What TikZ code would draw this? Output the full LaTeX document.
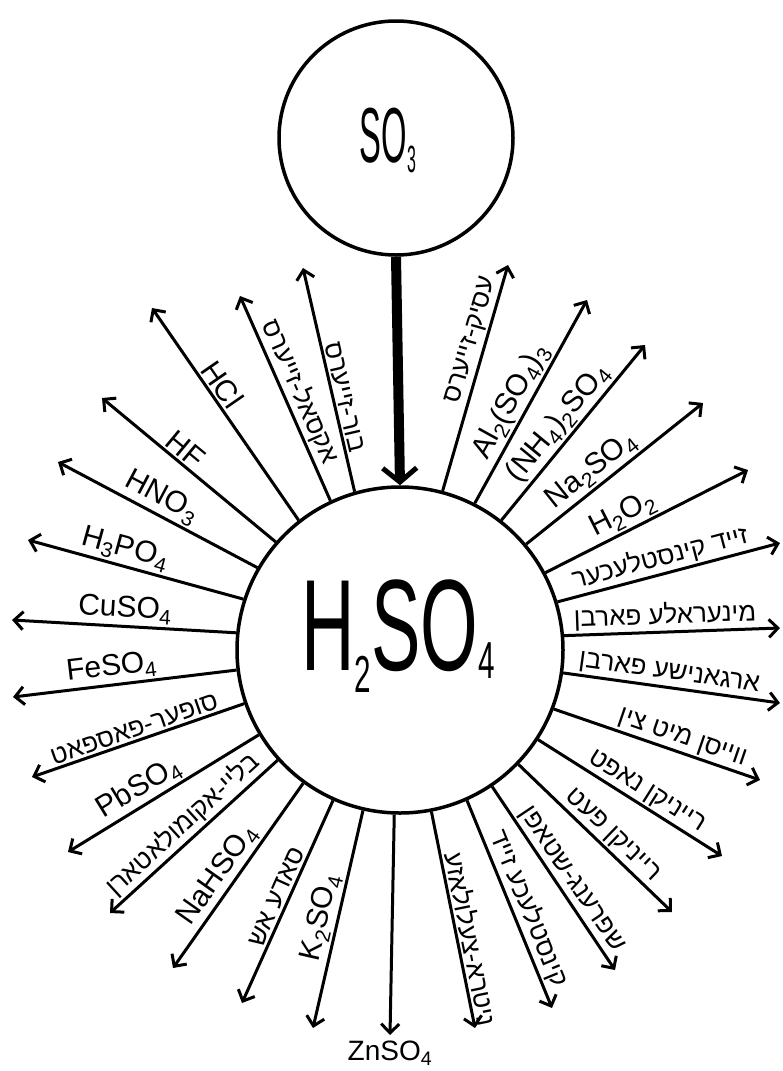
\documentclass[tikz,border=0pt]{standalone}
\usepackage{graphicx}
\usepackage{fontspec}
\setmainfont{Liberation Sans}
\newfontfamily\hebfont[Script=Hebrew]{Liberation Sans}
\TeXXeTstate=1
\usetikzlibrary{arrows.meta}

\begin{document}
\begin{tikzpicture}[
    x=1pt, y=-1pt,
    line width=3pt,
    >={Straight Barb[length=9pt,width=18pt]},
    ring/.style={circle, draw, line width=3.5pt, inner sep=0pt},
    chem/.style={font=\fontsize{30}{30}\selectfont, sloped, above, inner sep=2pt},
    yid/.style={font=\fontsize{26}{26}\selectfont\hebfont, sloped, above, inner sep=2pt}
]
    \useasboundingbox (0,0) rectangle (783,1071);

    % the two circles
    \node[ring, minimum size=234pt] (so3) at (396,138) {};
    \node (so3txt) at (388,140) {\scalebox{0.42}[1]{\fontsize{78}{78}\selectfont SO\raisebox{-10pt}{\fontsize{38}{38}\selectfont 3}}};
    \node[ring, minimum size=326pt] (acid) at (400,650) {};
    \node (acidtxt) at (398,636) {\scalebox{0.57}[1]{\fontsize{130}{130}\selectfont H\raisebox{-22pt}{\fontsize{52}{52}\selectfont 2}SO\raisebox{-8pt}{\fontsize{52}{52}\selectfont 4}}};

    % SO3 goes in
    \draw[line width=10pt, -{Straight Barb[length=14pt,width=34pt,line width=5pt]}] (so3.south) -- (acid.north);

    % arrow tips
    \coordinate (tR1) at (508,265);
    \coordinate (tAl) at (587,300);
    \coordinate (tNH) at (645,345);
    \coordinate (tNa) at (703,403);
    \coordinate (tHO) at (748,470);
    \coordinate (tR6) at (780,543);
    \coordinate (tR7) at (780,628);
    \coordinate (tR8) at (780,703);
    \coordinate (tR9) at (760,780);
    \coordinate (tR10) at (722,856);
    \coordinate (tR11) at (672,912);
    \coordinate (tR12) at (615,970);
    \coordinate (tR13) at (552,1008);
    \coordinate (tR14) at (475,1028);
    \coordinate (tZn) at (390,1035);
    \coordinate (tK) at (313,1028);
    \coordinate (tL13) at (242,1003);
    \coordinate (tNaH) at (173,968);
    \coordinate (tL11) at (110,913);
    \coordinate (tPb) at (68,852);
    \coordinate (tL9) at (32,777);
    \coordinate (tFe) at (13,697);
    \coordinate (tCu) at (12,620);
    \coordinate (tHP) at (28,540);
    \coordinate (tHN) at (58,462);
    \coordinate (tHF) at (102,398);
    \coordinate (tHCl) at (152,308);
    \coordinate (tL2) at (240,296);
    \coordinate (tL1) at (303,268);

    % right half
    \draw[->] (acid.75) -- (tR1) node[yid, pos=.65] {\beginR עסיק-זייערס\endR};
    \draw[->] (acid.63) -- (tAl) node[chem, pos=.46] {Al\textsubscript{2}(SO\textsubscript{4})\textsubscript{3}};
    \draw[->] (acid.52) -- (tNH) node[chem, pos=.49] {(NH\textsubscript{4})\textsubscript{2}SO\textsubscript{4}};
    \draw[->] (acid.40) -- (tNa) node[chem, pos=.43] {Na\textsubscript{2}SO\textsubscript{4}};
    \draw[->] (acid.28) -- (tHO) node[chem, pos=.42] {H\textsubscript{2}O\textsubscript{2}};
    \draw[->] (acid.17) -- (tR6) node[yid, pos=.48] {\beginR זייד קינסטלעכער\endR};
    \draw[->] (acid.5) -- (tR7) node[yid, pos=.47] {\beginR מינעראלע פארבן\endR};
    \draw[->] (acid.-8) -- (tR8) node[yid, pos=.48] {\beginR ארגאנישע פארבן\endR};
    \draw[->] (acid.-21) -- (tR9) node[yid, pos=.6] {\beginR ווייסן מיט צין\endR};
    \draw[->] (acid.-33) -- (tR10) node[yid, pos=.55] {\beginR רייניקן נאפט\endR};
    \draw[->] (acid.-44) -- (tR11) node[yid, pos=.55] {\beginR רייניקן פעט\endR};
    \draw[->] (acid.-56) -- (tR12) node[yid, pos=.55] {\beginR שפרענג-שטאפן\endR};
    \draw[->] (acid.-66) -- (tR13) node[yid, pos=.55] {\beginR קינסטלעכע זייד\endR};
    \draw[->] (acid.-79) -- (tR14) node[yid, pos=.6] {\beginR ניטרא-צעלולאזע\endR};

    % bottom
    \draw[->] (acid.-92.5) -- (tZn) node[font=\fontsize{28}{28}\selectfont, below=1pt] {ZnSO\textsubscript{4}};
    \draw[->] (acid.-103) -- (tK) node[chem, pos=.51] {K\textsubscript{2}SO\textsubscript{4}};

    % left half
    \draw[->] (acid.-114) -- (tL13) node[yid, pos=.5] {\beginR סאדע אש\endR};
    \draw[->] (acid.-126) -- (tNaH) node[chem, pos=.55] {NaHSO\textsubscript{4}};
    \draw[->] (acid.-138) -- (tL11) node[yid, pos=.5] {\beginR בליי-אקומולאטארן\endR};
    \draw[->] (acid.-149) -- (tPb) node[chem, pos=.58] {PbSO\textsubscript{4}};
    \draw[->] (acid.-161) -- (tL9) node[yid, pos=.5] {\beginR סופער-פאספאט\endR};
    \draw[->] (acid.-173) -- (tFe) node[chem, pos=.55] {FeSO\textsubscript{4}};
    \draw[->] (acid.174) -- (tCu) node[chem, pos=.5] {CuSO\textsubscript{4}};
    \draw[->] (acid.162) -- (tHP) node[chem, pos=.57] {H\textsubscript{3}PO\textsubscript{4}};
    \draw[->] (acid.150) -- (tHN) node[chem, pos=.52] {HNO\textsubscript{3}};
    \draw[->] (acid.139) -- (tHF) node[chem, pos=.57] {HF};
    \draw[->] (acid.128) -- (tHCl) node[chem, pos=.6] {HCl};
    \draw[->] (acid.115) -- (tL2) node[yid, pos=.5] {\beginR אקסאל-זייערס\endR};
    \draw[->] (acid.106) -- (tL1) node[yid, pos=.41] {\beginR בור-זייערס\endR};
\end{tikzpicture}
\end{document}
